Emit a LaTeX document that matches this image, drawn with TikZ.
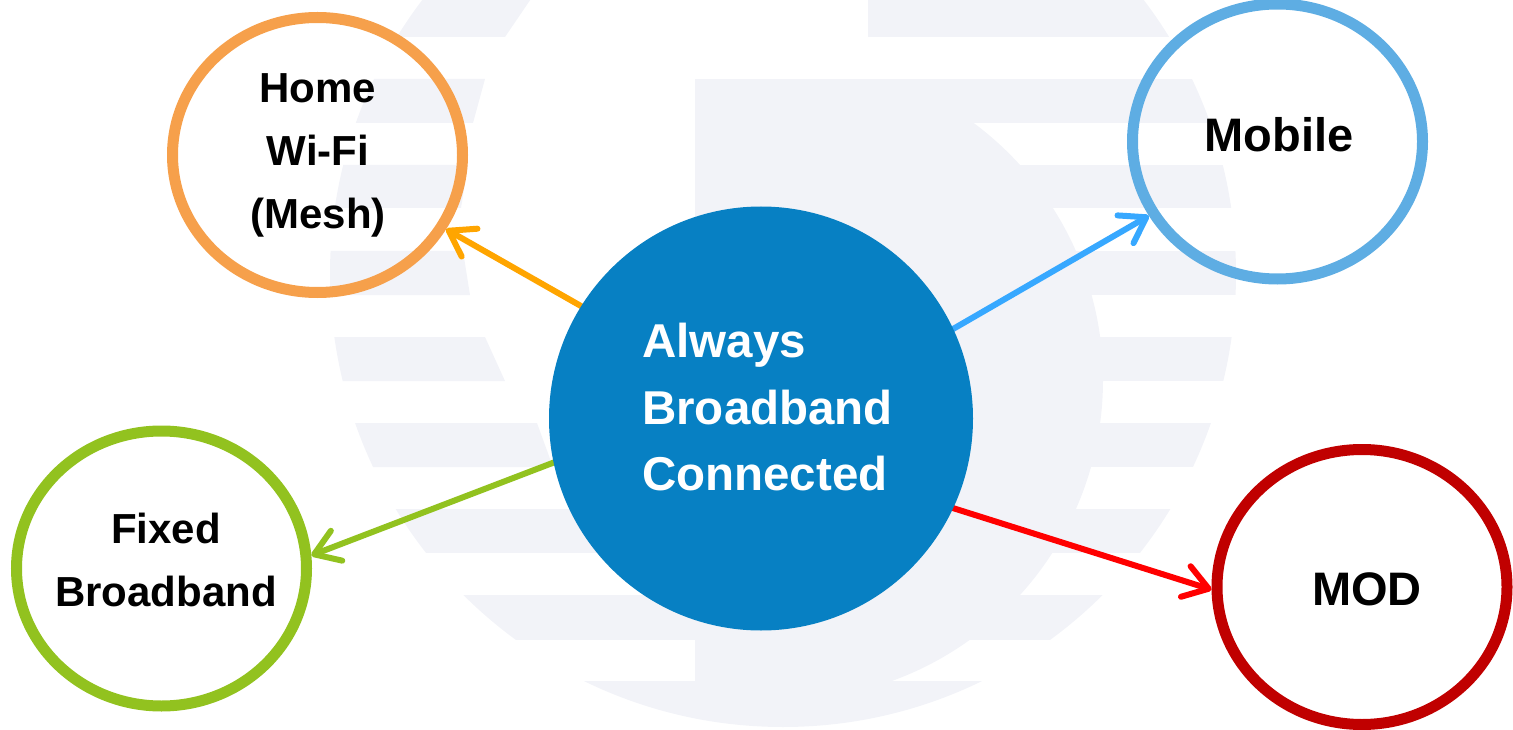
\documentclass[tikz,border=0pt]{standalone}
\usepackage{fontspec}
\setmainfont{Liberation Sans}
\usetikzlibrary{shapes.geometric, arrows.meta}
\definecolor{wm}{RGB}{242,243,248}
\definecolor{hubblue}{RGB}{7,128,195}
\definecolor{ringorange}{RGB}{246,160,75}
\definecolor{arrorange}{RGB}{255,165,0}
\definecolor{ringblue}{RGB}{94,173,227}
\definecolor{arrblue}{RGB}{55,168,255}
\definecolor{greenc}{RGB}{146,194,31}
\definecolor{arrred}{RGB}{255,0,0}
\definecolor{ringred}{RGB}{192,0,0}
\pgfdeclarelayer{back}
\pgfsetlayers{back,main}
\begin{document}
\begin{tikzpicture}[x=1pt,y=-1pt,
  ring/.style={ellipse, draw=#1, line width=11pt, minimum width=290pt, minimum height=275pt, inner sep=0pt},
  hub/.style={circle, fill=hubblue, minimum size=424pt, inner sep=0pt},
  lbl/.style={inner sep=0pt, font=\bfseries\fontsize{42}{63}\selectfont, align=center, text=black},
  biglbl/.style={inner sep=0pt, font=\bfseries\fontsize{47}{47}\selectfont, text=black},
  hubtext/.style={inner sep=0pt, font=\bfseries\fontsize{47.5}{66.5}\selectfont, align=left, text=white},
  conn/.style={draw=#1, line width=6pt, line cap=round, shorten <=-4pt, -{Straight Barb[length=24pt,width=32pt,round]}},
  band/.style={fill=wm}
]
\useasboundingbox (0,0) rectangle (1513,730);

% nodes
\node[hub] (hub) at (761,418.5) {};
\node[ring=ringorange] (home) at (317.5,155) {};
\node[ring=ringblue] (mobile) at (1277.5,141.5) {};
\node[ring=greenc] (fixed) at (161.5,568.5) {};
\node[ring=ringred] (mod) at (1362,587) {};

\node[hubtext, anchor=west] (hubtxt) at (642,407.5) {Always\\Broadband\\Connected};
\node[lbl] (hometxt) at (318,155.3) {Home\\Wi-Fi\\(Mesh)};
\node[lbl] (fixedtxt) at (166,560) {Fixed\\Broadband};
\node[biglbl] (mobiletxt) at (1279,135.2) {Mobile};
\node[biglbl] (modtxt) at (1367,589.5) {MOD};

\begin{pgfonlayer}{back}
% watermark
\begin{scope}
\clip (783,274) circle[radius=453pt];
\fill[band] (300,-10) -- (537,-10) -- (505,37) -- (300,37) -- cycle;
\fill[band] (868,-10) rectangle (1300,37);
\fill[band] (300,79) -- (485,79) -- (473,123) -- (300,123) -- cycle;
\fill[band] (695,79) rectangle (1300,123);
\fill[band] (300,165) -- (468,165) -- (461,208) -- (300,208) -- cycle;
\fill[band] (695,165) rectangle (1300,208);
\fill[band] (300,251) -- (463,251) -- (470,295) -- (300,295) -- cycle;
\fill[band] (695,251) rectangle (1300,295);
\fill[band] (300,337) -- (485,337) -- (505,381) -- (300,381) -- cycle;
\fill[band] (695,337) rectangle (1300,381);
\fill[band] (300,423) -- (537,423) -- (553,467) -- (300,467) -- cycle;
\fill[band] (695,423) rectangle (1300,467);
\fill[band] (300,509) rectangle (1300,553);
\fill[band] (300,595) rectangle (1300,640);
\fill[band] (300,681) rectangle (1300,740);
\begin{scope}
\clip (783,380) circle[radius=320pt];
\fill[band] (695,79) rectangle (1300,681);
\end{scope}
\end{scope}
% connectors
\draw[conn=arrorange] (hub.148) -- (home.-30);
\draw[conn=arrblue] (hub.25) -- (mobile.210);
\draw[conn=greenc] (hub.192) -- (fixed.5);
\draw[conn=arrred] (hub.335) -- (mod.181);
\end{pgfonlayer}
\end{tikzpicture}
\end{document}
